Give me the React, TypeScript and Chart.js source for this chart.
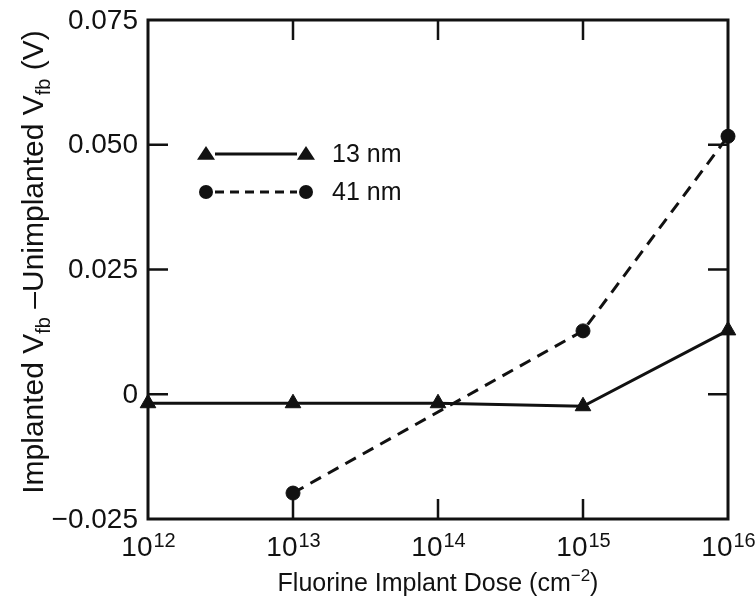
import React, { useEffect, useRef } from "react";
import { Chart, registerables } from "chart.js";

Chart.register(...registerables);

// ---- data ----
const doses = [1e12, 1e13, 1e14, 1e15, 1e16];
const series13nm = [-0.0018, -0.0018, -0.0018, -0.0024, 0.0128];
const doses41 = [1e13, 1e15, 1e16];
const series41nm = [-0.0198, 0.0127, 0.0517];
const seriesLabels = ["13 nm", "41 nm"];
const yTickValues = [0.075, 0.05, 0.025, 0, -0.025];
const yTickLabels = ["0.075", "0.050", "0.025", "0", "\u22120.025"];
const xTickValues = [1e12, 1e13, 1e14, 1e15, 1e16];
const xTickExponents = ["12", "13", "14", "15", "16"];

const FONT = "'Liberation Sans', Arial, Helvetica, sans-serif";
const INK = "#111";

function drawTriangle(ctx: CanvasRenderingContext2D, x: number, y: number, s: number) {
  ctx.beginPath();
  ctx.moveTo(x, y - s * 0.9);
  ctx.lineTo(x + s, y + s * 0.65);
  ctx.lineTo(x - s, y + s * 0.65);
  ctx.closePath();
  ctx.fill();
}
function drawCircle(ctx: CanvasRenderingContext2D, x: number, y: number, r: number) {
  ctx.beginPath();
  ctx.arc(x, y, r, 0, Math.PI * 2);
  ctx.fill();
}

const framePlugin = {
  id: "framePlugin",
  afterDatasetsDraw(chart: any) {
    const ctx: CanvasRenderingContext2D = chart.ctx;
    const { left, right, top, bottom } = chart.chartArea;
    const xs = chart.scales.x;
    const ys = chart.scales.y;
    ctx.save();
    ctx.strokeStyle = INK;
    ctx.fillStyle = INK;
    // frame
    ctx.lineWidth = 3;
    ctx.strokeRect(left, top, right - left, bottom - top);
    // inner ticks
    ctx.lineWidth = 2.5;
    ctx.beginPath();
    yTickValues.forEach((v, i) => {
      if (i === 0 || i === yTickValues.length - 1) return;
      const py = ys.getPixelForValue(v);
      ctx.moveTo(left, py);
      ctx.lineTo(left + 20, py);
      ctx.moveTo(right, py);
      ctx.lineTo(right - 20, py);
    });
    xTickValues.forEach((v, i) => {
      if (i === 0 || i === xTickValues.length - 1) return;
      const px = xs.getPixelForValue(v);
      ctx.moveTo(px, bottom);
      ctx.lineTo(px, bottom - 20);
      ctx.moveTo(px, top);
      ctx.lineTo(px, top + 20);
    });
    ctx.stroke();

    // y tick labels
    ctx.font = `28px ${FONT}`;
    ctx.textAlign = "right";
    ctx.textBaseline = "middle";
    yTickValues.forEach((v, i) => {
      ctx.fillText(yTickLabels[i], left - 10, ys.getPixelForValue(v) + 1);
    });

    // x tick labels: 10 with superscript exponent
    ctx.textBaseline = "alphabetic";
    ctx.textAlign = "left";
    xTickValues.forEach((v, i) => {
      const px = xs.getPixelForValue(v);
      ctx.font = `28px ${FONT}`;
      const wb = ctx.measureText("10").width;
      ctx.font = `20px ${FONT}`;
      const we = ctx.measureText(xTickExponents[i]).width;
      const x0 = px - (wb + we) / 2;
      ctx.font = `28px ${FONT}`;
      ctx.fillText("10", x0, bottom + 37);
      ctx.font = `20px ${FONT}`;
      ctx.fillText(xTickExponents[i], x0 + wb + 1, bottom + 28);
    });

    // x title
    {
      const base = "Fluorine Implant Dose (cm";
      const sup = "\u22122";
      const tail = ")";
      ctx.font = `25px ${FONT}`;
      const w1 = ctx.measureText(base).width;
      const w3 = ctx.measureText(tail).width;
      ctx.font = `17px ${FONT}`;
      const w2 = ctx.measureText(sup).width;
      const total = w1 + w2 + w3;
      const cx = (left + right) / 2;
      let x = cx - total / 2;
      const y = bottom + 72;
      ctx.font = `25px ${FONT}`;
      ctx.fillText(base, x, y);
      x += w1;
      ctx.font = `17px ${FONT}`;
      ctx.fillText(sup, x, y - 10);
      x += w2;
      ctx.font = `25px ${FONT}`;
      ctx.fillText(tail, x, y);
    }

    // y title (rotated) with subscripts
    {
      const parts: [string, boolean][] = [
        ["Implanted V", false],
        ["fb", true],
        [" \u2013Unimplanted V", false],
        ["fb", true],
        [" (V)", false],
      ];
      const mainF = `30px ${FONT}`;
      const subF = `20px ${FONT}`;
      let total = 0;
      const widths = parts.map(([t, sub]) => {
        ctx.font = sub ? subF : mainF;
        const w = ctx.measureText(t).width;
        total += w;
        return w;
      });
      ctx.save();
      ctx.translate(43, 262);
      ctx.rotate(-Math.PI / 2);
      let x = -total / 2;
      parts.forEach(([t, sub], i) => {
        ctx.font = sub ? subF : mainF;
        ctx.fillText(t, x, sub ? 7 : 0);
        x += widths[i];
      });
      ctx.restore();
    }

    // legend
    {
      const rows = [
        { y: 154, dash: [] as number[], marker: "tri" },
        { y: 192, dash: [9, 6], marker: "circ" },
      ];
      rows.forEach((r, i) => {
        const x1 = 206;
        const x2 = 306;
        ctx.lineWidth = 3;
        ctx.setLineDash(r.dash);
        ctx.beginPath();
        ctx.moveTo(x1 + 9, r.y);
        ctx.lineTo(x2 - 9, r.y);
        ctx.stroke();
        ctx.setLineDash([]);
        if (r.marker === "tri") {
          drawTriangle(ctx, x1, r.y, 9);
          drawTriangle(ctx, x2, r.y, 9);
        } else {
          drawCircle(ctx, x1, r.y, 7);
          drawCircle(ctx, x2, r.y, 7);
        }
        ctx.font = `25px ${FONT}`;
        ctx.textAlign = "left";
        ctx.textBaseline = "middle";
        ctx.fillText(chart.data.datasets[i].label, 332, r.y + 1);
      });
    }
    ctx.restore();
  },
};

export default function App() {
  const ref = useRef<HTMLCanvasElement | null>(null);
  useEffect(() => {
    if (!ref.current) return;
    const chart = new Chart(ref.current, {
      type: "line",
      data: {
        datasets: [
          {
            label: seriesLabels[0],
            data: doses.map((d, i) => ({ x: d, y: series13nm[i] })),
            borderColor: INK,
            backgroundColor: INK,
            borderWidth: 3,
            pointStyle: "triangle",
            pointRadius: 9,
            pointBackgroundColor: INK,
            pointBorderColor: INK,
            pointBorderWidth: 1,
            clip: false as any,
          },
          {
            label: seriesLabels[1],
            data: doses41.map((d, i) => ({ x: d, y: series41nm[i] })),
            borderColor: INK,
            backgroundColor: INK,
            borderWidth: 3,
            borderDash: [12, 8],
            pointStyle: "circle",
            pointRadius: 7,
            pointBackgroundColor: INK,
            pointBorderColor: INK,
            pointBorderWidth: 1,
            clip: false as any,
          },
        ],
      },
      options: {
        animation: false,
        responsive: false,
        layout: { padding: { left: 148, right: 28, top: 20, bottom: 81 } },
        plugins: { legend: { display: false }, tooltip: { enabled: false } },
        scales: {
          x: { type: "logarithmic", min: 1e12, max: 1e16, display: false },
          y: { type: "linear", min: -0.025, max: 0.075, display: false },
        },
      },
      plugins: [framePlugin],
    });
    return () => chart.destroy();
  }, []);
  return (
    <div style={{ position: "absolute", left: 0, top: 0, width: 756, height: 600, background: "#fff" }}>
      <canvas ref={ref} width={756} height={600} style={{ display: "block" }} />
    </div>
  );
}
